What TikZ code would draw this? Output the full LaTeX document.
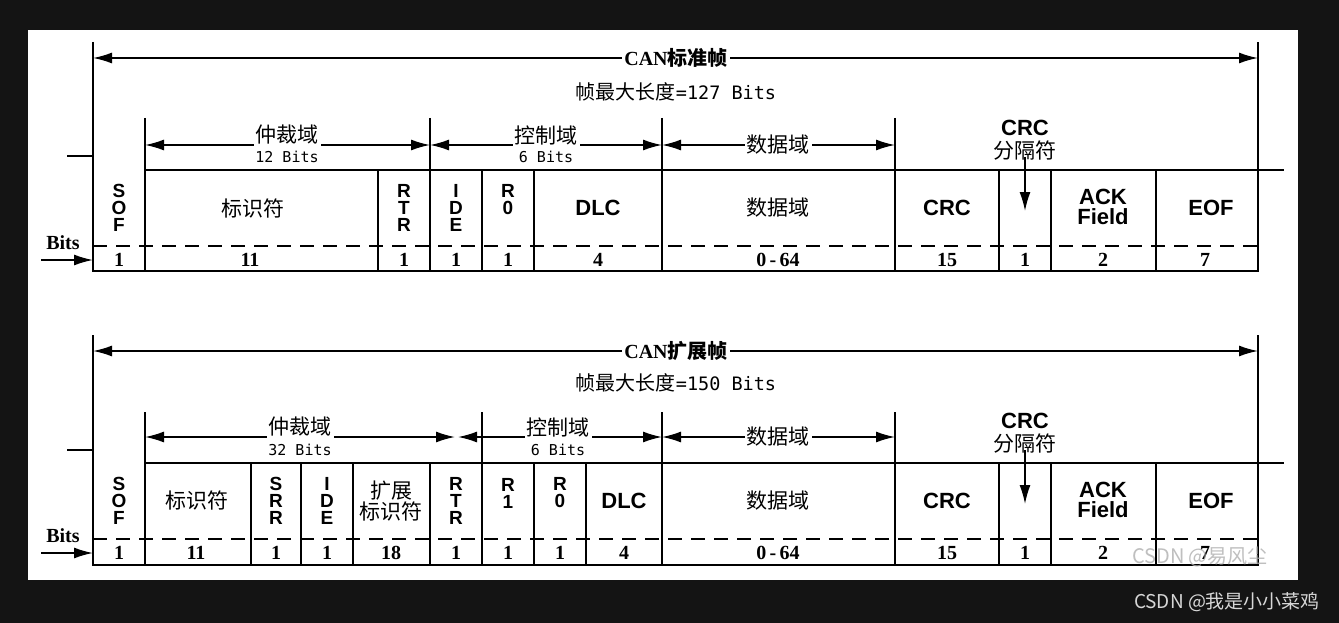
\documentclass[tikz,border=0pt]{standalone}
\usepackage{fontspec}
\setmainfont{Liberation Serif}
\newfontfamily\cjk{Noto Sans CJK SC}
\newfontfamily\hei{Liberation Sans}
\newfontfamily\mono{DejaVu Sans Mono}
\usetikzlibrary{arrows.meta}

\definecolor{bgdark}{RGB}{20,20,20}
\definecolor{wmark}{RGB}{175,175,175}
\definecolor{csdn}{RGB}{215,215,215}

\tikzset{
  line/.style={line width=1.6pt},
  dashline/.style={line width=1.6pt, dash pattern=on 14pt off 9pt},
  tip/.style={-{Latex[length=19pt,width=11pt]}, line width=1.6pt},
  twotip/.style={{Latex[length=19pt,width=11pt]}-{Latex[length=19pt,width=11pt]}, line width=1.6pt},
  fld/.style={font=\hei\bfseries\fontsize{22}{20}\selectfont, align=center, inner sep=0pt},
  stack/.style={font=\hei\bfseries\fontsize{19}{17}\selectfont, align=center, inner sep=0pt},
  zh/.style={font=\cjk\fontsize{21}{19}\selectfont, align=center, inner sep=0pt},
  num/.style={font=\bfseries\fontsize{20}{20}\selectfont, inner sep=0pt},
  grp/.style={font=\cjk\fontsize{21}{21}\selectfont, fill=white, inner sep=2pt},
  sub/.style={font=\mono\fontsize{15}{15}\selectfont, inner sep=0pt},
  title/.style={font=\bfseries\fontsize{20}{20}\selectfont, fill=white, inner sep=2pt},
  maxlen/.style={font=\cjk\fontsize{20}{20}\selectfont, inner sep=0pt},
  bitslbl/.style={font=\bfseries\fontsize{20}{20}\selectfont, inner sep=0pt}
}

\begin{document}
\begin{tikzpicture}[x=1pt, y=-1pt]
  \useasboundingbox (0,0) rectangle (1339,623);
  \fill[bgdark] (0,0) rectangle (1339,623);
  \fill[white] (28,30) rectangle (1298,580);

  % CAN standard frame
  \begin{scope}
    \coordinate (sL) at (93,58);
    \coordinate (sR) at (1258,58);
    \draw[line] (93,42) -- (93,271) -- (1258,271) -- (1258,42);
    \draw[line] (67,156) -- (93,156);
    \draw[line] (145,170) -- (1284,170);
    \draw[dashline] (93,246) -- (1258,246);
    \foreach \x in {145,430,662,895}
      \draw[line] (\x,118) -- (\x,271);
    \foreach \x in {378,482,534,999,1051,1156}
      \draw[line] (\x,170) -- (\x,271);
    \draw[twotip] (sL) -- (sR);
    \node[title] (sTitle) at (676,58) {CAN{\cjk\bfseries\fontsize{20}{20}\selectfont 标准帧}};
    \node[maxlen] (sMax) at (676,92) {帧最大长度{\mono\fontsize{18.5}{19}\selectfont =127 Bits}};

    \coordinate (sA1) at (145,145);
    \coordinate (sA2) at (430,145);
    \coordinate (sC1) at (430,145);
    \coordinate (sC2) at (662,145);
    \coordinate (sD1) at (662,145);
    \coordinate (sD2) at (895,145);
    \draw[twotip] (sA1) -- (sA2);
    \draw[twotip] (sC1) -- (sC2);
    \draw[twotip] (sD1) -- (sD2);
    \node[grp] (sArb) at (287,135) {仲裁域};
    \node[sub] (sArbN) at (287,157) {12 Bits};
    \node[grp] (sCtl) at (546,135) {控制域};
    \node[sub] (sCtlN) at (546,157) {6 Bits};
    \node[grp] (sDat) at (778,145) {数据域};

    \node[fld] (sCrcT) at (1025,128) {CRC};
    \node[zh] (sCrcD) at (1025,151) {分隔符};
    \coordinate (sCrcA) at (1025,157);
    \coordinate (sCrcB) at (1025,211);
    \draw[tip] (sCrcA) -- (sCrcB);

    \node[bitslbl] (sBits) at (63,243) {Bits};
    \coordinate (sIn) at (41,260);
    \coordinate (sOut) at (93,260);
    \draw[tip] (sIn) -- (sOut);

    \node[stack] (sSof) at (119,208) {S\\O\\F};
    \node[zh] (sId) at (253,208) {标识符};
    \node[stack] (sRtr) at (404,208) {R\\T\\R};
    \node[stack] (sIde) at (456,208) {I\\D\\E};
    \node[stack] (sR0) at (508,200) {R\\0};
    \node[fld] (sDlc) at (598,208) {DLC};
    \node[zh] (sData) at (778,208) {数据域};
    \node[fld] (sCrc) at (947,208) {CRC};
    \node[fld] (sAck) at (1103,207) {ACK\\Field};
    \node[fld] (sEof) at (1211,208) {EOF};

    \foreach \x/\t in {119/1,250/11,404/1,456/1,508/1,598/4,778/{0\,-\,64},947/15,1025/1,1103/2,1205/7}
      \node[num] (sn\x) at (\x,260) {\t};
  \end{scope}

  % CAN extended frame
  \begin{scope}[yshift=-293pt]
    \coordinate (eL) at (93,58);
    \coordinate (eR) at (1258,58);
    \draw[line] (93,42) -- (93,272) -- (1258,272) -- (1258,42);
    \draw[line] (67,157) -- (93,157);
    \draw[line] (145,170) -- (1284,170);
    \draw[dashline] (93,246) -- (1258,246);
    \foreach \x in {145,482,662,895}
      \draw[line] (\x,119) -- (\x,272);
    \foreach \x in {251,301,353,430,534,586,999,1051,1156}
      \draw[line] (\x,170) -- (\x,272);
    \draw[twotip] (eL) -- (eR);
    \node[title] (eTitle) at (676,58) {CAN{\cjk\bfseries\fontsize{20}{20}\selectfont 扩展帧}};
    \node[maxlen] (eMax) at (676,90) {帧最大长度{\mono\fontsize{18.5}{19}\selectfont =150 Bits}};

    \coordinate (eA1) at (145,144);
    \coordinate (eA2) at (455,144);
    \coordinate (eC1) at (458,144);
    \coordinate (eC2) at (662,144);
    \coordinate (eD1) at (662,144);
    \coordinate (eD2) at (895,144);
    \draw[twotip] (eA1) -- (eA2);
    \draw[twotip] (eC1) -- (eC2);
    \draw[twotip] (eD1) -- (eD2);
    \node[grp] (eArb) at (300,134) {仲裁域};
    \node[sub] (eArbN) at (300,157) {32 Bits};
    \node[grp] (eCtl) at (558,134) {控制域};
    \node[sub] (eCtlN) at (558,157) {6 Bits};
    \node[grp] (eDat) at (778,144) {数据域};

    \node[fld] (eCrcT) at (1025,128) {CRC};
    \node[zh] (eCrcD) at (1025,151) {分隔符};
    \coordinate (eCrcA) at (1025,157);
    \coordinate (eCrcB) at (1025,211);
    \draw[tip] (eCrcA) -- (eCrcB);

    \node[bitslbl] (eBits) at (63,243) {Bits};
    \coordinate (eIn) at (41,260);
    \coordinate (eOut) at (93,260);
    \draw[tip] (eIn) -- (eOut);

    \node[stack] (eSof) at (119,208) {S\\O\\F};
    \node[zh] (eId) at (197,207) {标识符};
    \node[stack] (eSrr) at (276,208) {S\\R\\R};
    \node[stack] (eIde) at (327,208) {I\\D\\E};
    \node[zh] (eExt) at (391,208) {扩展\\标识符};
    \node[stack] (eRtr) at (456,208) {R\\T\\R};
    \node[stack] (eR1) at (508,200) {R\\1};
    \node[stack] (eR0) at (560,200) {R\\0};
    \node[fld] (eDlc) at (624,208) {DLC};
    \node[zh] (eData) at (778,208) {数据域};
    \node[fld] (eCrc) at (947,208) {CRC};
    \node[fld] (eAck) at (1103,207) {ACK\\Field};
    \node[fld] (eEof) at (1211,208) {EOF};

    \foreach \x/\t in {119/1,196/11,276/1,327/1,391/18,456/1,508/1,560/1,624/4,778/{0\,-\,64},947/15,1025/1,1103/2,1205/7}
      \node[num] (en\x) at (\x,260) {\t};

    \node[font=\cjk\fontsize{20}{20}\selectfont, text=wmark, opacity=0.8] (eMark) at (1200,264) {CSDN @易风尘};
  \end{scope}

  \node[font=\cjk\fontsize{19}{19}\selectfont, text=csdn] (csdn) at (1227,602) {CSDN @我是小小菜鸡};
\end{tikzpicture}
\end{document}
